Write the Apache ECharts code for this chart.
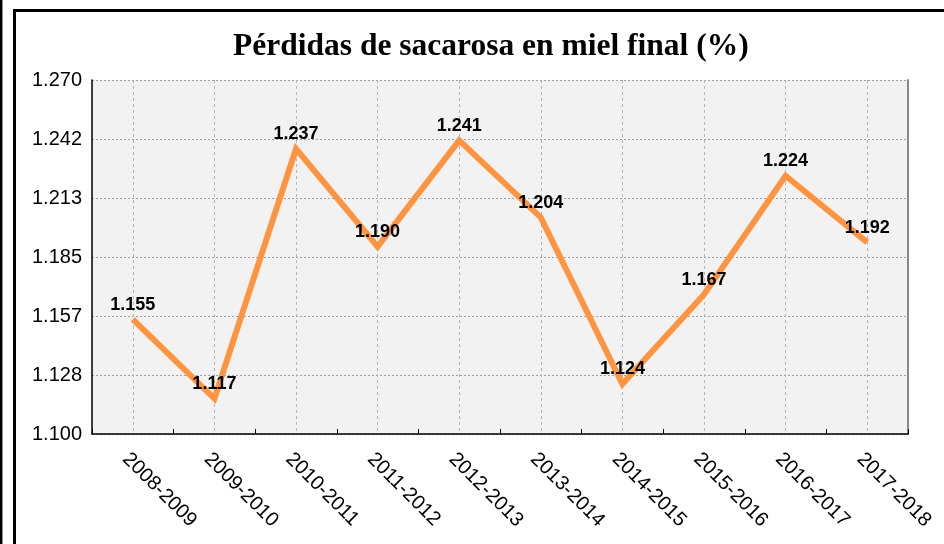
<!DOCTYPE html>
<html><head><meta charset="utf-8">
<script src="https://cdn.jsdelivr.net/npm/echarts@6/dist/echarts.min.js"></script>
<style>html,body{margin:0;padding:0;background:#fff}#c{width:944px;height:544px}</style>
</head><body><div id="c"></div>
<script>
const categories = ['2008-2009','2009-2010','2010-2011','2011-2012','2012-2013','2013-2014','2014-2015','2015-2016','2016-2017','2017-2018'];
const values = [1.155, 1.117, 1.237, 1.190, 1.241, 1.204, 1.124, 1.167, 1.224, 1.192];
const yMin = 1.100, yMax = 1.270, yTickCount = 6;
const titleText = 'Pérdidas de sacarosa en miel final (%)';

const step = (yMax - yMin) / yTickCount;
const chart = echarts.init(document.getElementById('c'));
chart.setOption({
  animation: false,
  title: { text: titleText, left: 228, top: 26,
    textStyle: { fontFamily: 'Liberation Serif', fontWeight: 'bold', fontSize: 31.5, color: '#000' } },
  grid: { left: 92, right: 36, top: 80, bottom: 110, show: true, backgroundColor: '#f2f2f2', borderWidth: 0 },
  graphic: [
    { type: 'line', shape: { x1: 1.2, y1: 0, x2: 1.2, y2: 544 }, style: { stroke: '#000', lineWidth: 2.5 } },
    { type: 'line', shape: { x1: 14.5, y1: 9, x2: 14.5, y2: 544 }, style: { stroke: '#000', lineWidth: 3 } },
    { type: 'line', shape: { x1: 13, y1: 10.5, x2: 944, y2: 10.5 }, style: { stroke: '#000', lineWidth: 3 } }
  ],
  xAxis: {
    type: 'category', data: categories, boundaryGap: true,
    axisLine: { lineStyle: { color: '#000', width: 1.5 } },
    axisTick: { show: true, inside: true, length: 5, lineStyle: { color: '#000' } },
    splitLine: { show: true, alignWithLabel: true, lineStyle: { color: '#b4b4b4', type: [3, 3], width: 1 } },
    axisLabel: { rotate: -45, margin: 15, verticalAlign: 'top', fontFamily: 'Liberation Sans', fontSize: 20, color: '#000' }
  },
  yAxis: [{
    type: 'value', min: 0, max: yMax - yMin, interval: step,
    axisLine: { show: true, lineStyle: { color: '#000', width: 1.5 } },
    axisTick: { show: false },
    splitLine: { show: true, lineStyle: { color: '#a0a0a0', type: [2, 2], width: 1 } },
    axisLabel: { margin: 10, fontFamily: 'Liberation Sans', fontSize: 20, color: '#000',
      formatter: v => (v + yMin).toFixed(3) }
  }, {
    type: 'value', position: 'right', min: 0, max: 1,
    axisLine: { show: true, lineStyle: { color: '#888', width: 2 } },
    axisTick: { show: false }, axisLabel: { show: false }, splitLine: { show: false }
  }],
  series: [{
    type: 'line', yAxisIndex: 0,
    data: values.map(v => v - yMin),
    symbol: 'circle', symbolSize: 1, showSymbol: true,
    itemStyle: { color: 'rgba(0,0,0,0)' },
    lineStyle: { color: '#ff9440', width: 6, join: 'miter' },
    labelLayout: { hideOverlap: false },
    label: { show: true, position: 'top', distance: 5, fontFamily: 'Liberation Sans', fontWeight: 'bold', fontSize: 18, color: '#000',
      formatter: p => values[p.dataIndex].toFixed(3) }
  }]
});
</script></body></html>
